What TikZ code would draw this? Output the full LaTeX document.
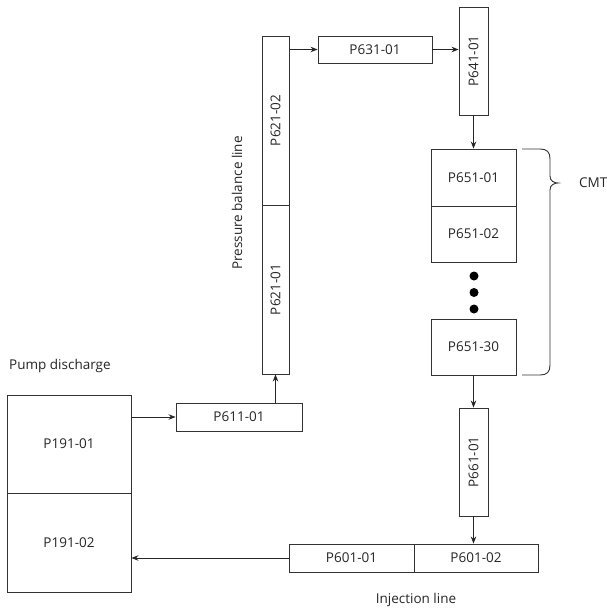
\documentclass[tikz,border=0pt]{standalone}
\usepackage{fontspec}
\setmainfont{Open Sans}
\usetikzlibrary{arrows.meta}
\begin{document}
\begin{tikzpicture}[x=1pt,y=-1pt,
  every node/.style={font=\fontsize{13.5}{15}\selectfont, text=black!85},
  pbox/.style={draw=black!80, line width=0.9pt, inner sep=0pt, minimum width=#1},
  flow/.style={draw=black!85, line width=0.9pt, -{Stealth[length=7pt,width=5.5pt]}},
  lbl/.style={inner sep=0pt}]
\useasboundingbox (0,0) rectangle (607,610);
% boxes
\node[pbox=124pt, minimum height=98pt] (p191a) at (69,444) {P191-01};
\node[pbox=124pt, minimum height=99pt] (p191b) at (69,542.5) {P191-02};
\node[pbox=126pt, minimum height=28pt] (p611) at (239,417) {P611-01};
\node[pbox=27pt, minimum height=169pt] (p621a) at (275.5,289.5) {};
\node[rotate=90, lbl] at (p621a) {P621-01};
\node[pbox=27pt, minimum height=169pt] (p621b) at (275.5,120.5) {};
\node[rotate=90, lbl] at (p621b) {P621-02};
\node[pbox=114pt, minimum height=27pt] (p631) at (375,49.5) {P631-01};
\node[pbox=29pt, minimum height=108pt] (p641) at (473.5,61) {};
\node[rotate=90, lbl] at (p641) {P641-01};
\node[pbox=85pt, minimum height=57pt] (p651a) at (473.5,177.5) {P651-01};
\node[pbox=85pt, minimum height=56pt] (p651b) at (473.5,234) {P651-02};
\node[pbox=85pt, minimum height=56pt] (p651c) at (473.5,347) {P651-30};
\node[pbox=29pt, minimum height=108pt] (p661) at (473.5,462) {};
\node[rotate=90, lbl] at (p661) {P661-01};
\node[pbox=125pt, minimum height=28pt] (p601a) at (351.5,558) {P601-01};
\node[pbox=124pt, minimum height=28pt] (p601b) at (476,558) {P601-02};
% dots
\foreach \yy in {276,292.5,309} \fill[black] (474,\yy) circle (4.5pt);
% arrows
\draw[flow] (p191a.east |- p611.west) -- (p611.west);
\draw[flow] (p611.north -| p621a.south) -- (p621a.south);
\draw[flow] (p621b.east |- p631.west) -- (p631.west);
\draw[flow] (p631.east) -- (p631.east -| p641.west);
\draw[flow] (p641.south) -- (p651a.north);
\draw[flow] (p651c.south) -- (p661.north);
\draw[flow] (p661.south) -- (p661.south |- p601b.north);
\draw[flow] (p601a.west) -- (p601a.west -| p191b.east);
% brace
\draw[black!80, line width=0.9pt] (522,149) -- (540,149) .. controls (547,149) and (550,152) .. (550,159) -- (550,176) .. controls (550,181) and (554,183) .. (558,183) .. controls (554,183) and (550,185) .. (550,190) -- (550,365) .. controls (550,372) and (547,375) .. (540,375) -- (522,375);
% labels
\node[lbl, anchor=west] (pump) at (9,366) {Pump discharge};
\node[lbl, rotate=90] (press) at (237,203) {Pressure balance line};
\node[lbl] (inj) at (416,600) {Injection line};
\node[lbl, anchor=west] (cmt) at (579,183) {CMT};
\end{tikzpicture}
\end{document}
